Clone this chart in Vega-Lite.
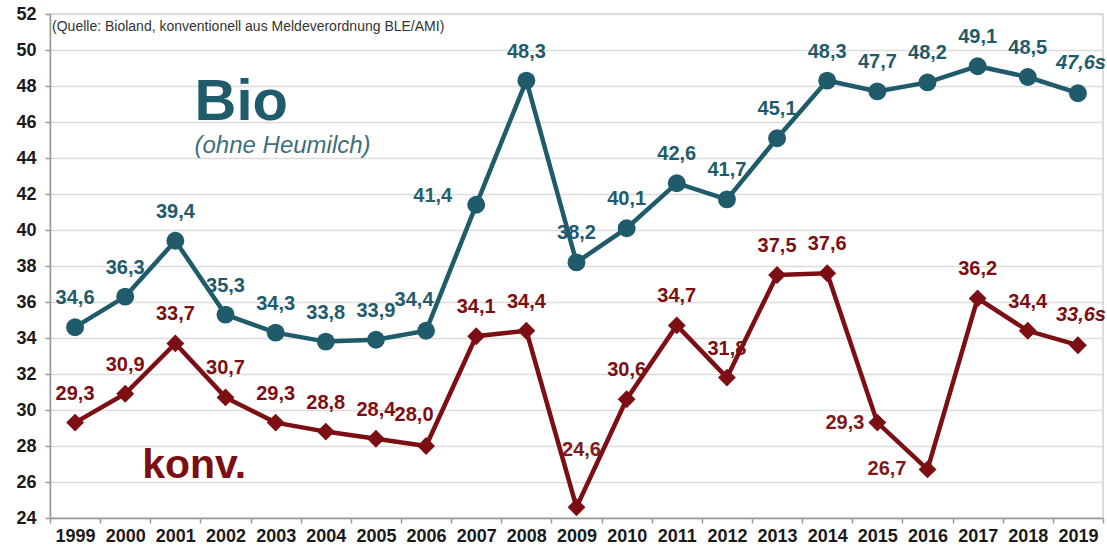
{
  "$schema": "https://vega.github.io/schema/vega-lite/v6.json",
  "width": 1053,
  "height": 504,
  "autosize": {"type": "none"},
  "padding": {"left": 50, "top": 14, "right": 4, "bottom": 31},
  "background": "white",
  "config": {
    "font": "Liberation Sans",
    "view": {"stroke": "#cfcfcf", "strokeWidth": 1.5},
    "axis": {"labelFont": "Liberation Sans", "labelFontWeight": "bold", "labelFontSize": 18, "labelColor": "#1a1a1a", "domainColor": "#9a9a9a", "tickColor": "#9a9a9a", "domainWidth": 1.5, "tickWidth": 1.5}
  },
  "datasets": {
    "milk": [
      {"year": "1999", "series": "Bio", "value": 34.6, "label": "34,6"},
      {"year": "2000", "series": "Bio", "value": 36.3, "label": "36,3"},
      {"year": "2001", "series": "Bio", "value": 39.4, "label": "39,4"},
      {"year": "2002", "series": "Bio", "value": 35.3, "label": "35,3"},
      {"year": "2003", "series": "Bio", "value": 34.3, "label": "34,3"},
      {"year": "2004", "series": "Bio", "value": 33.8, "label": "33,8"},
      {"year": "2005", "series": "Bio", "value": 33.9, "label": "33,9"},
      {"year": "2006", "series": "Bio", "value": 34.4, "label": "34,4"},
      {"year": "2007", "series": "Bio", "value": 41.4, "label": "41,4"},
      {"year": "2008", "series": "Bio", "value": 48.3, "label": "48,3"},
      {"year": "2009", "series": "Bio", "value": 38.2, "label": "38,2"},
      {"year": "2010", "series": "Bio", "value": 40.1, "label": "40,1"},
      {"year": "2011", "series": "Bio", "value": 42.6, "label": "42,6"},
      {"year": "2012", "series": "Bio", "value": 41.7, "label": "41,7"},
      {"year": "2013", "series": "Bio", "value": 45.1, "label": "45,1"},
      {"year": "2014", "series": "Bio", "value": 48.3, "label": "48,3"},
      {"year": "2015", "series": "Bio", "value": 47.7, "label": "47,7"},
      {"year": "2016", "series": "Bio", "value": 48.2, "label": "48,2"},
      {"year": "2017", "series": "Bio", "value": 49.1, "label": "49,1"},
      {"year": "2018", "series": "Bio", "value": 48.5, "label": "48,5"},
      {"year": "2019", "series": "Bio", "value": 47.6, "label": "47,6s"},
      {"year": "1999", "series": "konv", "value": 29.3, "label": "29,3"},
      {"year": "2000", "series": "konv", "value": 30.9, "label": "30,9"},
      {"year": "2001", "series": "konv", "value": 33.7, "label": "33,7"},
      {"year": "2002", "series": "konv", "value": 30.7, "label": "30,7"},
      {"year": "2003", "series": "konv", "value": 29.3, "label": "29,3"},
      {"year": "2004", "series": "konv", "value": 28.8, "label": "28,8"},
      {"year": "2005", "series": "konv", "value": 28.4, "label": "28,4"},
      {"year": "2006", "series": "konv", "value": 28.0, "label": "28,0"},
      {"year": "2007", "series": "konv", "value": 34.1, "label": "34,1"},
      {"year": "2008", "series": "konv", "value": 34.4, "label": "34,4"},
      {"year": "2009", "series": "konv", "value": 24.6, "label": "24,6"},
      {"year": "2010", "series": "konv", "value": 30.6, "label": "30,6"},
      {"year": "2011", "series": "konv", "value": 34.7, "label": "34,7"},
      {"year": "2012", "series": "konv", "value": 31.8, "label": "31,8"},
      {"year": "2013", "series": "konv", "value": 37.5, "label": "37,5"},
      {"year": "2014", "series": "konv", "value": 37.6, "label": "37,6"},
      {"year": "2015", "series": "konv", "value": 29.3, "label": "29,3"},
      {"year": "2016", "series": "konv", "value": 26.7, "label": "26,7"},
      {"year": "2017", "series": "konv", "value": 36.2, "label": "36,2"},
      {"year": "2018", "series": "konv", "value": 34.4, "label": "34,4"},
      {"year": "2019", "series": "konv", "value": 33.6, "label": "33,6s"}
    ]
  },
  "data": {"name": "milk"},
  "encoding": {
    "x": {
      "field": "year", "type": "ordinal",
      "scale": {"type": "band", "paddingInner": 0, "paddingOuter": 0},
      "axis": {"title": null, "labelAngle": 0, "tickBand": "extent", "tickSize": 5, "labelPadding": 4, "grid": false}
    },
    "y": {
      "field": "value", "type": "quantitative",
      "scale": {"domain": [24, 52], "nice": false, "zero": false},
      "axis": {"title": null, "values": [24, 26, 28, 30, 32, 34, 36, 38, 40, 42, 44, 46, 48, 50, 52], "tickSize": 5, "labelPadding": 9, "labelFontSize": 18, "grid": true, "gridColor": "#dcdcdc", "gridWidth": 1.5}
    }
  },
  "layer": [
    {
      "mark": {"type": "line", "strokeWidth": 4.5},
      "encoding": {
        "color": {"field": "series", "type": "nominal", "scale": {"domain": ["Bio", "konv"], "range": ["#1f5b6a", "#7c0f14"]}, "legend": null}
      }
    },
    {
      "mark": {"type": "point", "filled": true, "opacity": 1, "size": 320},
      "encoding": {
        "color": {"field": "series", "type": "nominal", "scale": {"domain": ["Bio", "konv"], "range": ["#1f5b6a", "#7c0f14"]}, "legend": null},
        "shape": {"field": "series", "type": "nominal", "scale": {"domain": ["Bio", "konv"], "range": ["circle", "diamond"]}, "legend": null}
      }
    },
    {
      "transform": [{"filter": "datum.year != '2019' && datum.year != '2006' && !(datum.series == 'Bio' && datum.year == '2007') && !(datum.series == 'konv' && (datum.year == '2009' || datum.year == '2015' || datum.year == '2016'))"}],
      "mark": {"type": "text", "fontSize": 20, "fontWeight": "bold", "baseline": "middle", "align": "center", "dy": -29},
      "encoding": {
        "text": {"field": "label"},
        "color": {"field": "series", "type": "nominal", "scale": {"domain": ["Bio", "konv"], "range": ["#2a5f6c", "#7d1a1d"]}, "legend": null}
      }
    },
    {
      "transform": [{"filter": "datum.year == '2006'"}],
      "mark": {"type": "text", "fontSize": 20, "fontWeight": "bold", "baseline": "middle", "align": "center", "dy": -31, "dx": -12},
      "encoding": {
        "text": {"field": "label"},
        "color": {"field": "series", "type": "nominal", "scale": {"domain": ["Bio", "konv"], "range": ["#2a5f6c", "#7d1a1d"]}, "legend": null}
      }
    },
    {
      "transform": [{"filter": "datum.year == '2019'"}],
      "mark": {"type": "text", "fontSize": 20, "fontWeight": "bold", "fontStyle": "italic", "baseline": "middle", "align": "center", "dy": -30, "dx": 3},
      "encoding": {
        "text": {"field": "label"},
        "color": {"field": "series", "type": "nominal", "scale": {"domain": ["Bio", "konv"], "range": ["#2a5f6c", "#7d1a1d"]}, "legend": null}
      }
    },
    {
      "transform": [{"filter": "datum.series == 'Bio' && datum.year == '2007'"}],
      "mark": {"type": "text", "fontSize": 20, "fontWeight": "bold", "baseline": "middle", "align": "right", "dy": -9, "dx": -24, "color": "#2a5f6c"},
      "encoding": {"text": {"field": "label"}}
    },
    {
      "transform": [{"filter": "datum.series == 'konv' && datum.year == '2015'"}],
      "mark": {"type": "text", "fontSize": 20, "fontWeight": "bold", "baseline": "middle", "align": "right", "dy": 0, "dx": -13, "color": "#7d1a1d"},
      "encoding": {"text": {"field": "label"}}
    },
    {
      "transform": [{"filter": "datum.series == 'konv' && datum.year == '2016'"}],
      "mark": {"type": "text", "fontSize": 20, "fontWeight": "bold", "baseline": "middle", "align": "right", "dy": 0, "dx": -21, "color": "#7d1a1d"},
      "encoding": {"text": {"field": "label"}}
    },
    {
      "transform": [{"filter": "datum.series == 'konv' && datum.year == '2009'"}],
      "mark": {"type": "text", "fontSize": 20, "fontWeight": "bold", "baseline": "middle", "align": "center", "dy": -57, "dx": 5, "color": "#7d1a1d"},
      "encoding": {"text": {"field": "label"}}
    },
    {
      "data": {"values": [{"year": "2002", "value": 46.1, "text": "Bio"}]},
      "mark": {"type": "text", "fontSize": 58, "fontWeight": "bold", "baseline": "alphabetic", "align": "left", "dx": -31, "color": "#1f5b6a"},
      "encoding": {"text": {"field": "text"}}
    },
    {
      "data": {"values": [{"year": "2002", "value": 44.3, "text": "(ohne Heumilch)"}]},
      "mark": {"type": "text", "fontSize": 24, "fontStyle": "italic", "baseline": "alphabetic", "align": "left", "dx": -31, "color": "#3d6f7c"},
      "encoding": {"text": {"field": "text"}}
    },
    {
      "data": {"values": [{"year": "2000", "value": 26.2, "text": "konv."}]},
      "mark": {"type": "text", "fontSize": 41, "fontWeight": "bold", "baseline": "alphabetic", "align": "left", "dx": 17, "color": "#7c0f14"},
      "encoding": {"text": {"field": "text"}}
    },
    {
      "data": {"values": [{"year": "1999", "value": 51.28, "text": "(Quelle: Bioland, konventionell aus Meldeverordnung BLE/AMI)"}]},
      "mark": {"type": "text", "fontSize": 14, "baseline": "middle", "align": "left", "dx": -23, "color": "#333333"},
      "encoding": {"text": {"field": "text"}}
    }
  ]
}
